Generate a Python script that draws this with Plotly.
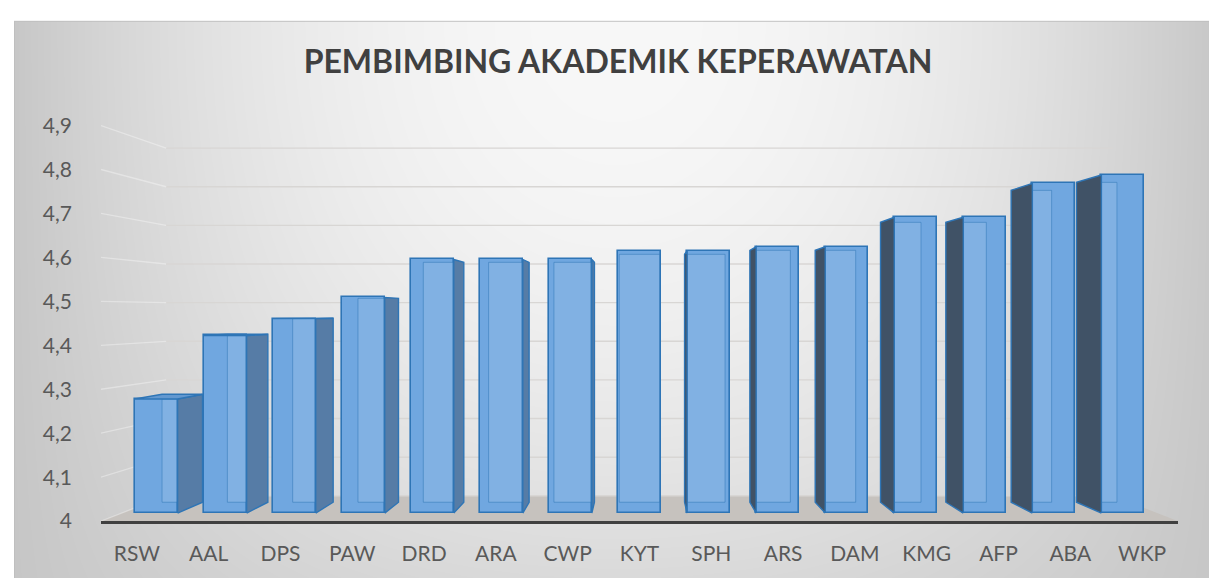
import base64, struct, zlib
import numpy as np
import plotly.graph_objects as go

# ---------------- data ----------------
categories = ["RSW", "AAL", "DPS", "PAW", "DRD", "ARA", "CWP", "KYT",
              "SPH", "ARS", "DAM", "KMG", "AFP", "ABA", "WKP"]
values = [4.27, 4.42, 4.46, 4.51, 4.60, 4.60, 4.60, 4.62,
          4.62, 4.63, 4.63, 4.70, 4.70, 4.78, 4.80]
ytick_vals = [4.0, 4.1, 4.2, 4.3, 4.4, 4.5, 4.6, 4.7, 4.8, 4.9]
ytick_text = ["4", "4,1", "4,2", "4,3", "4,4", "4,5", "4,6", "4,7", "4,8", "4,9"]
title_text = "PEMBIMBING AKADEMIK KEPERAWATAN"
BASE = 4.0

# ---------------- geometry / style ----------------
W, H = 1217, 581
PL, PR, PT, PB = 93, 1170, 100, 523          # plot area in px
PX_PER_UNIT_Y = 448.0
x_range = [-0.5, len(categories) - 0.5]
y_range = [BASE, BASE + (PB - PT) / PX_PER_UNIT_Y]
VP = (7.0, 4.4754)         # vanishing point (data coords)
S_FRONT = 0.9616           # bar front plane vs label plane
S_BACK = 0.946             # bar back plane vs bar front plane
S_WALL = 0.879             # back wall vs label plane
BAR_W = 0.62

def proj(x, y, s):
    return VP[0] + (x - VP[0]) * s, VP[1] + (y - VP[1]) * s

x2_range = [VP[0] + (r - VP[0]) / S_FRONT for r in x_range]
y2_range = [VP[1] + (r - VP[1]) / S_FRONT for r in y_range]

FRONT = "rgb(112,167,224)"
EDGE = "rgb(46,117,182)"
RIGHT_FACE = "rgb(86,124,166)"
LEFT_FACE = "rgb(64,82,102)"
TOP_FACE = "rgb(98,152,208)"

# ---------------- background image ----------------
def png_gray(a):
    h, w = a.shape
    raw = b"".join(b"\x00" + a[r].tobytes() for r in range(h))
    def chunk(t, d):
        c = struct.pack(">I", len(d)) + t + d
        return c + struct.pack(">I", zlib.crc32(t + d) & 0xFFFFFFFF)
    return (b"\x89PNG\r\n\x1a\n" +
            chunk(b"IHDR", struct.pack(">IIBBBBB", w, h, 8, 0, 0, 0, 0)) +
            chunk(b"IDAT", zlib.compress(raw, 9)) + chunk(b"IEND", b""))

yy, xx = np.mgrid[0:H, 0:W].astype(float)
u2 = ((xx - 608) / 610.0) ** 2
v2 = ((yy - 13) / 568.0) ** 2
bg = np.clip(248 - 50 * u2 - 30 * v2 * (1 - u2), 188, 250).astype(np.uint8)
bg[:13, :] = 255
bg[:, :6] = 255
bg[13, 6:] = 191
bg[13:, 6] = 191
bg_src = "data:image/png;base64," + base64.b64encode(png_gray(bg)).decode()

fig = go.Figure()

# ---------------- floor & walls (label plane axes) ----------------
fx0, fy0 = proj(x_range[0], BASE, S_WALL)
fx1, fy1 = proj(x_range[1], BASE, S_WALL)
fig.add_trace(go.Scatter(
    x=[x_range[0], x_range[1], fx1, fx0, x_range[0]],
    y=[BASE, BASE, fy1, fy0, BASE],
    fill="toself", mode="lines", line=dict(width=0),
    fillcolor="rgb(198,194,190)", hoverinfo="skip", showlegend=False))

gx, gy, lx, ly = [], [], [], []
for t in ytick_vals:
    ax, ay = proj(x_range[0], t, S_WALL)
    bx, by = proj(x_range[1], t, S_WALL)
    gx += [ax, bx, None]; gy += [ay, by, None]
    lx += [x_range[0], ax, None]; ly += [t, ay, None]
fig.add_trace(go.Scatter(x=gx, y=gy, mode="lines",
                         line=dict(color="rgb(216,214,212)", width=1.4),
                         hoverinfo="skip", showlegend=False))
fig.add_trace(go.Scatter(x=lx, y=ly, mode="lines",
                         line=dict(color="rgba(255,255,255,0.35)", width=1.3),
                         hoverinfo="skip", showlegend=False))

# ---------------- bars (bar front plane axes) ----------------
idx = list(range(len(categories)))
fig.add_trace(go.Bar(
    x=idx, y=[v - BASE for v in values], base=BASE, width=BAR_W,
    xaxis="x2", yaxis="y2",
    marker=dict(color=FRONT, line=dict(color=EDGE, width=1.6)),
    hoverinfo="skip", showlegend=False))

inner_x, inner_y = [], []
rf_x, rf_y, lf_x, lf_y, tp_x, tp_y = [], [], [], [], [], []
for i, v in zip(idx, values):
    xl, xr = i - BAR_W / 2, i + BAR_W / 2
    pxl, pyb = proj(xl, BASE, S_BACK)
    pxr, pyt = proj(xr, v, S_BACK)
    # back face seen through the front face
    ix0, ix1 = max(xl, pxl), min(xr, pxr)
    iy0, iy1 = max(BASE, pyb), min(v, pyt)
    inner_x += [ix0, ix1, ix1, ix0, ix0, None]
    inner_y += [iy0, iy0, iy1, iy1, iy0, None]
    if i < VP[0]:
        bx0, by0 = proj(xr, BASE, S_BACK)
        bx1, by1 = proj(xr, v, S_BACK)
        rf_x += [xr, xr, bx1, bx0, xr, None]
        rf_y += [BASE, v, by1, by0, BASE, None]
    elif i > VP[0]:
        bx0, by0 = proj(xl, BASE, S_BACK)
        bx1, by1 = proj(xl, v, S_BACK)
        lf_x += [xl, xl, bx1, bx0, xl, None]
        lf_y += [BASE, v, by1, by0, BASE, None]
    if v < VP[1]:
        ax, ay = proj(xl, v, S_BACK)
        bx, by = proj(xr, v, S_BACK)
        tp_x += [xl, xr, bx, ax, xl, None]
        tp_y += [v, v, by, ay, v, None]

fig.add_trace(go.Scatter(x=inner_x, y=inner_y, xaxis="x2", yaxis="y2",
                         fill="toself", mode="lines",
                         fillcolor="rgba(255,255,255,0.12)",
                         line=dict(color="rgba(46,117,182,0.5)", width=1),
                         hoverinfo="skip", showlegend=False))
fig.add_trace(go.Scatter(x=rf_x, y=rf_y, xaxis="x2", yaxis="y2",
                         fill="toself", mode="lines", fillcolor=RIGHT_FACE,
                         line=dict(color=EDGE, width=1.4),
                         hoverinfo="skip", showlegend=False))
fig.add_trace(go.Scatter(x=lf_x, y=lf_y, xaxis="x2", yaxis="y2",
                         fill="toself", mode="lines", fillcolor=LEFT_FACE,
                         line=dict(color=EDGE, width=1.4),
                         hoverinfo="skip", showlegend=False))
fig.add_trace(go.Scatter(x=tp_x, y=tp_y, xaxis="x2", yaxis="y2",
                         fill="toself", mode="lines", fillcolor=TOP_FACE,
                         line=dict(color=EDGE, width=1.4),
                         hoverinfo="skip", showlegend=False))

# ---------------- layout ----------------
tick_font = dict(family="Lato, Calibri, sans-serif", size=21, color="#595959")
fig.update_layout(
    width=W, height=H,
    margin=dict(l=0, r=0, t=0, b=0),
    paper_bgcolor="white",
    plot_bgcolor="rgba(0,0,0,0)",
    showlegend=False,
    bargap=0,
    images=[dict(source=bg_src, xref="paper", yref="paper", x=0, y=1,
                 sizex=1, sizey=1, xanchor="left", yanchor="top",
                 sizing="stretch", layer="below")],
    title=dict(text=title_text, x=610 / W, y=1 - 55 / H, xref="paper",
               yref="paper", xanchor="center", yanchor="middle",
               font=dict(family="Lato, Calibri, sans-serif", size=32,
                         color="#404040", weight="bold")),
    xaxis=dict(domain=[PL / W, PR / W], range=x_range, tickmode="array",
               tickvals=idx, ticktext=categories, showgrid=False,
               zeroline=False, showline=True, linecolor="#404040",
               linewidth=3, ticks="", tickfont=tick_font,
               ticklabelstandoff=12, fixedrange=True),
    yaxis=dict(domain=[(H - PB) / H, (H - PT) / H], range=y_range,
               tickmode="array", tickvals=ytick_vals, ticktext=ytick_text,
               showgrid=False, zeroline=False, showline=False, ticks="",
               tickfont=tick_font, ticklabelstandoff=28, fixedrange=True),
    xaxis2=dict(overlaying="x", anchor="y2", range=x2_range, visible=False,
                fixedrange=True),
    yaxis2=dict(overlaying="y", anchor="x2", range=y2_range, visible=False,
                fixedrange=True),
)

fig.write_html("out.html")
